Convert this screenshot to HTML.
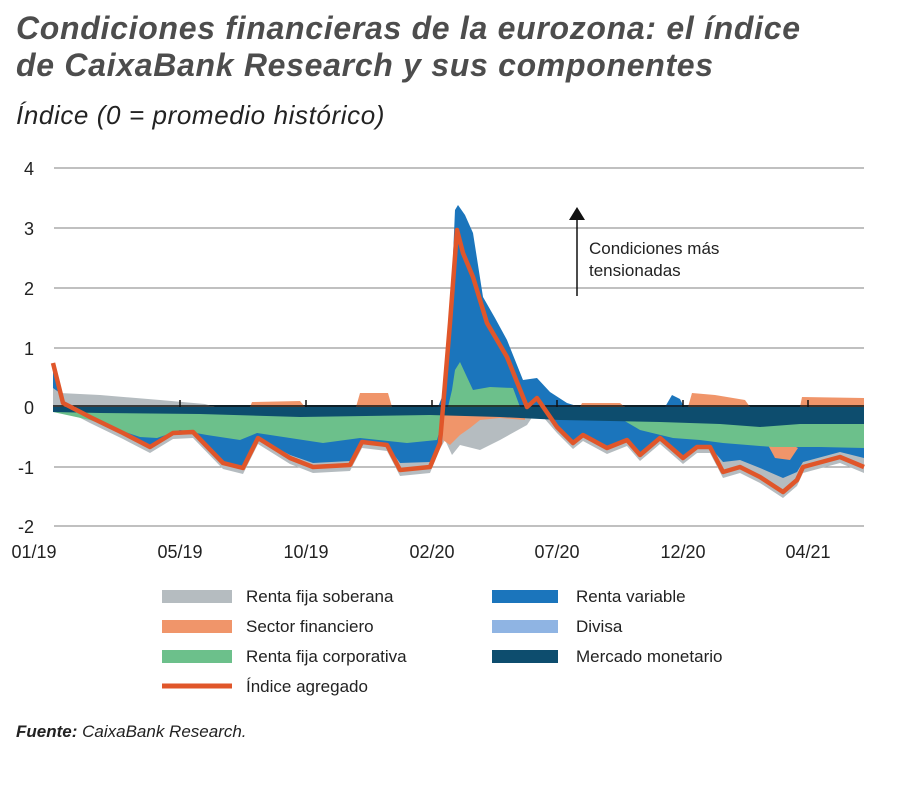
<!DOCTYPE html>
<html><head><meta charset="utf-8"><style>
body{margin:0;background:#fff;width:900px;height:790px;overflow:hidden;font-family:"Liberation Sans",sans-serif;}
.t{position:absolute;left:16px;top:10px;font-size:32px;font-weight:bold;font-style:italic;color:#4d4d4d;line-height:37px;letter-spacing:0.7px}
.s{position:absolute;left:16px;top:100px;font-size:26px;font-style:italic;color:#222;letter-spacing:0.6px}
.f{position:absolute;left:16px;top:722px;font-size:17px;font-style:italic;color:#222}
</style></head><body>
<div class="t">Condiciones financieras de la eurozona: el índice<br>de CaixaBank Research y sus componentes</div>
<div class="s">Índice (0 = promedio histórico)</div>
<svg width="900" height="790" style="position:absolute;left:0;top:0" font-family="Liberation Sans, sans-serif">
<g stroke="#9a9a9a" stroke-width="1.3">
<line x1="54" x2="864" y1="168" y2="168"/><line x1="54" x2="864" y1="228" y2="228"/><line x1="54" x2="864" y1="288" y2="288"/><line x1="54" x2="864" y1="348" y2="348"/><line x1="54" x2="864" y1="467" y2="467"/><line x1="54" x2="864" y1="526" y2="526"/>
</g>
<g font-size="18" fill="#222" text-anchor="end">
<text x="34" y="175">4</text><text x="34" y="235">3</text><text x="34" y="295">2</text><text x="34" y="355">1</text><text x="34" y="414">0</text><text x="34" y="474">-1</text><text x="34" y="533">-2</text>
</g>
<g font-size="18" fill="#222" text-anchor="middle">
<text x="34" y="558">01/19</text><text x="180" y="558">05/19</text><text x="306" y="558">10/19</text><text x="432" y="558">02/20</text><text x="557" y="558">07/20</text><text x="683" y="558">12/20</text><text x="808" y="558">04/21</text>
</g>
<!-- negative grey -->
<polygon fill="#b5bcc0" points="53,407 53,369 63,409 90,423 123,439 150,453 173,439 193,438 223,469 243,474 258,444 290,464 313,473 350,471 362,448 387,451 400,476 430,473 440,449 445,440 452,455 460,445 480,450 500,440 527,425 537,410 557,433 573,449 583,441 607,454 627,446 640,461 660,444 683,464 697,453 710,453 723,478 740,473 760,483 783,498 797,486 803,473 840,463 864,473 864,407"/>
<!-- negative blue -->
<polygon fill="#1b75bc" points="53,407 53,367 63,405 90,419 123,435 150,449 173,435 193,434 223,462 243,466 258,438 290,455 313,463 350,461 362,442 387,445 400,463 430,462 440,443 444,410 530,410 537,405 557,427 573,443 583,435 607,448 627,440 640,455 660,438 683,458 697,447 710,447 723,462 740,460 760,468 783,478 797,472 803,462 840,452 864,458 864,407"/>
<!-- negative orange -->
<polygon fill="#f0956a" points="442,407 443,440 450,445 460,435 470,428 480,420 500,418 525,420 525,407"/>
<polygon fill="#f0956a" points="768,445 775,458 790,460 798,448 790,444"/>
<!-- negative green -->
<polygon fill="#6cc08b" points="53,407 53,412 90,420 140,437 157,438 180,430 207,435 240,440 257,433 290,438 323,443 360,438 407,443 437,440 445,412 525,410 550,417 600,420 623,420 640,430 673,438 700,440 723,443 773,447 820,447 864,448 864,407"/>
<!-- navy -->
<polygon fill="#0d4d6e" points="53,405 864,405 864,424 800,424 760,427 720,424 660,422 560,420 500,417 430,415 300,417 200,414 100,413 53,412"/>
<!-- positive grey -->
<polygon fill="#b5bcc0" points="53,407 53,388 60,393 100,395 160,400 205,404 215,407"/>
<!-- positive orange -->
<g fill="#f0956a">
<polygon points="250,407 252,402 300,401 305,407"/>
<polygon points="356,407 360,393 388,393 392,407"/>
<polygon points="580,407 582,403 620,403 625,407"/>
<polygon points="688,407 692,393 715,395 745,400 750,407"/>
<polygon points="800,407 802,397 864,398 864,407"/>
</g>
<polygon fill="#1b75bc" points="665,407 672,395 680,399 684,407"/>
<!-- positive blue spike -->
<polygon fill="#1b75bc" points="438,407 444,392 448,370 452,280 455,210 458,205 465,215 473,233 478,265 483,297 495,318 507,340 515,360 523,380 537,378 550,392 567,403 580,407"/>
<polygon fill="#6cc08b" points="448,407 452,390 455,370 460,362 466,375 473,390 490,387 513,388 520,407"/>
<g stroke="#111" stroke-width="1.5"><line x1="180" x2="180" y1="400" y2="407"/><line x1="306" x2="306" y1="400" y2="407"/><line x1="432" x2="432" y1="400" y2="407"/><line x1="557" x2="557" y1="400" y2="407"/><line x1="683" x2="683" y1="400" y2="407"/><line x1="808" x2="808" y1="400" y2="407"/></g>
<line x1="53" x2="864" y1="406" y2="406" stroke="#111" stroke-width="1.5"/>
<!-- index line -->
<polyline fill="none" stroke="#e0562a" stroke-width="4.5" stroke-linejoin="round" points="53,363 63,403 90,417 123,433 150,447 173,433 193,432 223,463 243,468 258,438 290,458 313,467 350,465 362,442 387,445 400,470 430,467 440,443 450,323 457,230 463,253 473,277 487,323 507,357 527,407 537,398 557,427 573,443 583,435 607,448 627,440 640,455 660,438 683,458 697,447 710,447 723,472 740,467 760,477 783,492 797,480 803,467 840,457 864,467"/>
<!-- arrow -->
<line x1="577" x2="577" y1="218" y2="296" stroke="#111" stroke-width="1.5"/>
<polygon points="569,220 585,220 577,207" fill="#111"/>
<text x="589" y="254" font-size="17" fill="#222">Condiciones más</text>
<text x="589" y="276" font-size="17" fill="#222">tensionadas</text>
<!-- legend -->
<g font-size="17" fill="#222">
<rect x="162" y="590" width="70" height="13" fill="#b5bcc0"/><text x="246" y="602">Renta fija soberana</text>
<rect x="162" y="620" width="70" height="13" fill="#f0956a"/><text x="246" y="632">Sector financiero</text>
<rect x="162" y="650" width="70" height="13" fill="#6cc08b"/><text x="246" y="662">Renta fija corporativa</text>
<line x1="162" x2="232" y1="686" y2="686" stroke="#e0562a" stroke-width="5"/><text x="246" y="692">Índice agregado</text>
<rect x="492" y="590" width="66" height="13" fill="#1b75bc"/><text x="576" y="602">Renta variable</text>
<rect x="492" y="620" width="66" height="13" fill="#8fb4e3"/><text x="576" y="632">Divisa</text>
<rect x="492" y="650" width="66" height="13" fill="#0d4d6e"/><text x="576" y="662">Mercado monetario</text>
</g>
</svg>
<div class="f"><b>Fuente:</b> CaixaBank Research.</div>
</body></html>
